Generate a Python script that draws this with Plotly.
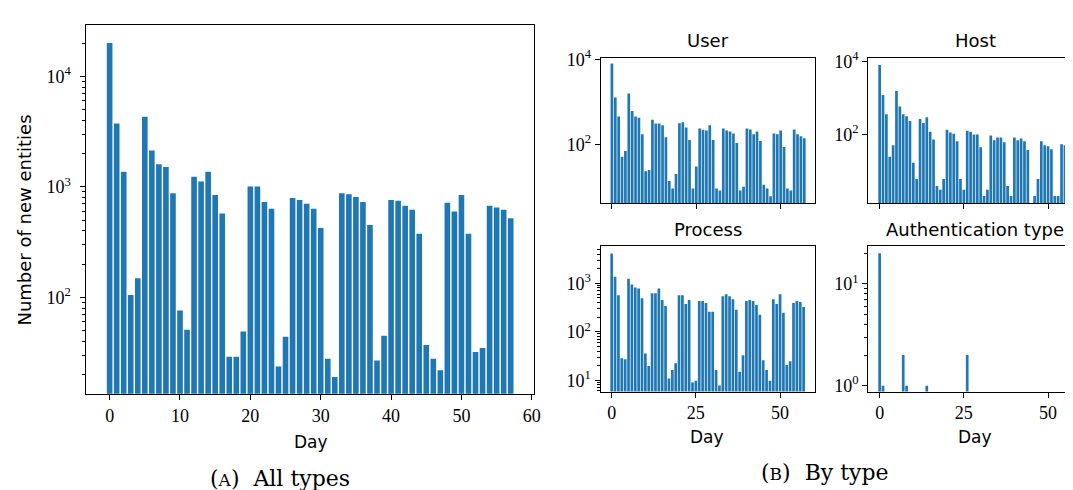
import plotly.graph_objects as go

days = list(range(58))

all_types = [20000, 3750, 1370, 105, 149, 4310, 2130, 1600, 1510, 877,
             76, 51, 1236, 1117, 1370, 843, 574, 29, 29, 49,
             1008, 1008, 731, 635, 23.7, 44, 793, 762, 703, 635,
             425, 27.9, 19, 877, 859, 809, 731, 451, 26.8, 45,
             762, 747, 675, 622, 376, 37, 27.9, 21.9, 718, 599,
             843, 376, 32, 34.8, 675, 649, 622, 519]

user = [7950, 1267, 451, 51, 70, 1563, 607, 451, 421, 172,
        23.4, 25, 378, 307, 307, 281, 147, 13.8, 9.1, 20,
        312, 329, 248, 126, 9.1, 30, 236, 220, 212, 281,
        126, 9.1, 8.2, 236, 212, 201, 181, 107, 8.2, 10,
        236, 224, 172, 201, 119, 11.2, 9.1, 6, 181, 172,
        212, 87, 9.1, 8.2, 224, 172, 155, 139]

host = [8000, 1202, 354, 24, 50, 1535, 577, 354, 314, 231,
        16.6, 5.9, 261, 204, 295, 118, 72, 3.8, 3.0, 5.9,
        133, 111, 104, 64, 5.9, 3.0, 125, 118, 98, 98,
        44, 2, 3.0, 92, 68, 82, 82, 60, 3.8, 2,
        82, 68, 77, 64, 37, 1, 2, 5.9, 64, 50,
        47, 39, 2, 2, 53, 50, 53, 50]

process = [4110, 1360, 566, 28.4, 27.1, 1240, 940, 819, 782, 494,
           35.7, 19.6, 622, 622, 782, 450, 341, 10.8, 16.3, 22.5,
           566, 566, 374, 450, 9.0, 9.8, 430, 430, 392, 259,
           259, 16.3, 7.8, 541, 593, 541, 471, 284, 14.9, 32.6,
           430, 450, 430, 357, 225, 25.9, 16.3, 9.8, 471, 374,
           593, 247, 20.6, 24.7, 392, 430, 410, 326]

auth = [20, 1, 0, 0, 0, 0, 0, 2, 1, 0,
        0, 0, 0, 0, 1, 0, 0, 0, 0, 0,
        0, 0, 0, 0, 0, 0, 2, 0, 0, 0,
        0, 0, 0, 0, 0, 0, 0, 0, 0, 0,
        0, 0, 0, 0, 0, 0, 0, 0, 0, 0,
        0, 0, 0, 0, 0, 0, 0, 0]

main_xticks = [0, 10, 20, 30, 40, 50, 60]
small_xticks = [0, 25, 50]

W, H = 1073, 490
BLUE = "#1f77b4"
SERIF = "Liberation Serif, DejaVu Serif, serif"
CAPSERIF = "DejaVu Serif, serif"
SANS = "DejaVu Sans, sans-serif"


def dxp(a, b):
    return [a / W, min(b / W, 1.0)]


def dyp(top, bottom):
    return [1 - bottom / H, 1 - top / H]


def sup(e):
    return "10<sup>%d</sup>" % e


def minor_vals(lo, hi):
    vals = []
    for e in range(lo, hi + 1):
        for m in range(2, 10):
            vals.append(m * 10 ** e)
    return vals


fig = go.Figure()
series = [all_types, user, host, process, auth]
for i, s in enumerate(series):
    k = "" if i == 0 else str(i + 1)
    fig.add_trace(go.Bar(
        x=days, y=[v if v > 0 else None for v in s], width=0.8,
        marker=dict(color=BLUE, line=dict(width=0)),
        xaxis="x" + k, yaxis="y" + k, showlegend=False,
    ))

base_ax = dict(showline=True, linecolor="black", linewidth=1.2,
               ticks="outside", ticklen=5, tickwidth=1, tickcolor="black",
               showgrid=False, zeroline=False,
               tickfont=dict(family=SERIF, size=18, color="black"))

dom = {
    "": ((79, 529.3), (6.7, 386.7)),
    "2": ((596.7, 812.7), (40.7, 190)),
    "3": ((866, 1073), (40.5, 190)),
    "4": ((596.5, 812), (234.3, 384.3)),
    "5": ((866, 1073), (234.3, 384.3)),
}

layout = dict(
    width=W, height=H, margin=dict(l=0, r=0, t=0, b=0),
    plot_bgcolor="white", paper_bgcolor="white", bargap=0.2,
)

minor_style = dict(ticks="outside", ticklen=3, tickwidth=0.8, tickcolor="black")

layout["xaxis"] = dict(base_ax, domain=dxp(*dom[""][0]), anchor="y",
                       range=[-3.29, 60.29], tickvals=main_xticks, mirror=True)
layout["yaxis"] = dict(base_ax, domain=dyp(*dom[""][1]), anchor="x", type="log",
                       range=[1.127, 4.46], tickvals=[100, 1000, 10000],
                       ticktext=[sup(2), sup(3), sup(4)], mirror=True,
                       ticklabelstandoff=6,
                       minor=dict(minor_style,
                                  tickvals=[v for v in minor_vals(1, 4) if 13 < v < 29000]))

layout["xaxis2"] = dict(base_ax, domain=dxp(*dom["2"][0]), anchor="y2",
                        range=[-3.29, 60.29], tickvals=small_xticks,
                        showticklabels=False, mirror=True)
layout["yaxis2"] = dict(base_ax, domain=dyp(*dom["2"][1]), anchor="x2", type="log",
                        range=[0.616, 4.02], tickvals=[100, 10000],
                        ticktext=[sup(2), sup(4)], mirror=True)

layout["xaxis3"] = dict(base_ax, domain=dxp(*dom["3"][0]), anchor="y3",
                        range=[-3.35, 57.7], tickvals=small_xticks,
                        showticklabels=False, mirror=True)
layout["yaxis3"] = dict(base_ax, domain=dyp(*dom["3"][1]), anchor="x3", type="log",
                        range=[0.106, 4.088], tickvals=[100, 10000],
                        ticktext=[sup(2), sup(4)], mirror=False)

layout["xaxis4"] = dict(base_ax, domain=dxp(*dom["4"][0]), anchor="y4",
                        range=[-3.29, 60.29], tickvals=small_xticks, mirror=True)
layout["yaxis4"] = dict(base_ax, domain=dyp(*dom["4"][1]), anchor="x4", type="log",
                        range=[0.767, 3.767], tickvals=[10, 100, 1000],
                        ticktext=[sup(1), sup(2), sup(3)], mirror=True,
                        minor=dict(minor_style,
                                   tickvals=[v for v in minor_vals(0, 3) if 5.8 < v < 5800]))

layout["xaxis5"] = dict(base_ax, domain=dxp(*dom["5"][0]), anchor="y5",
                        range=[-3.35, 57.7], tickvals=small_xticks, mirror=True)
layout["yaxis5"] = dict(base_ax, domain=dyp(*dom["5"][1]), anchor="x5", type="log",
                        range=[-0.057, 1.371], tickvals=[1, 10],
                        ticktext=[sup(0), sup(1)], mirror=False,
                        minor=dict(minor_style,
                                   tickvals=[v for v in minor_vals(0, 1) if v < 23]))

fig.update_layout(**layout)


def ann(text, x, y, size, family, angle=0):
    fig.add_annotation(text=text, x=x / W, y=1 - y / H, xref="paper", yref="paper",
                       showarrow=False, xanchor="center", yanchor="middle",
                       textangle=angle,
                       font=dict(family=family, size=size, color="black"))


ann("Number of new entities", 17, 207, 18, SANS, -90)
ann("Day", 305, 436, 17, SANS)
ann("Day", 704, 431, 17, SANS)
ann("Day", 973, 431, 17, SANS)
ann("User", 705, 22, 18, SANS)
ann("Host", 974, 22, 18, SANS)
ann("Process", 705, 217, 18, SANS)
ann("Authentication type", 973, 217, 18, SANS)
ann("(<span style='font-size:17px'>A</span>)&nbsp;&nbsp;All types", 274, 474, 22, CAPSERIF)
ann("(<span style='font-size:17px'>B</span>)&nbsp;&nbsp;By type", 822, 468, 22, CAPSERIF)

fig.write_html("out.html")
